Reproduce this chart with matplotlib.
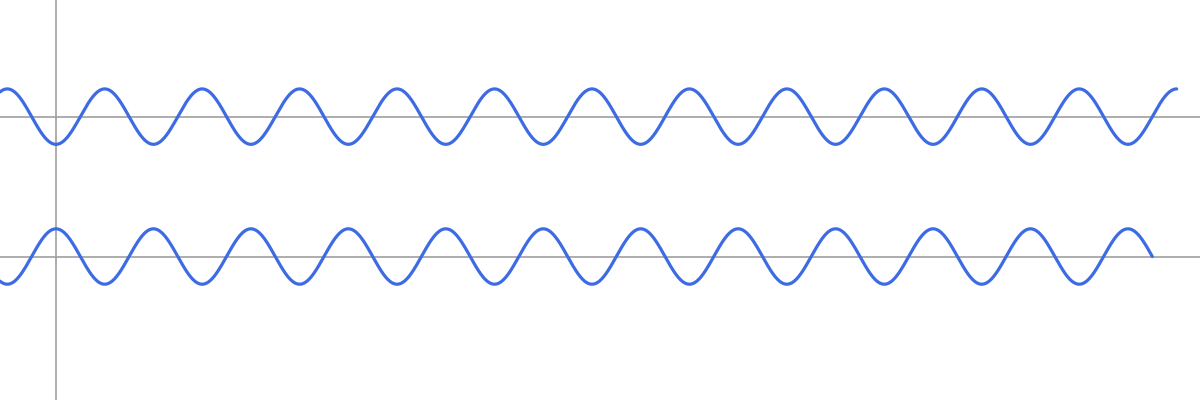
import numpy as np
import matplotlib
matplotlib.use("Agg")
import matplotlib.pyplot as plt

# two waves: amplitude, vertical offset, phase sign and x range (in radians)
wave_names = ["top", "bottom"]
wave_amp = [1.0, 1.0]
wave_offset = [0.0, -5.05]
wave_sign = [-1.0, 1.0]          # -cos for the top wave, cos for the bottom one
wave_start = [-3.7, -3.7]
wave_end = [23 * np.pi, 22.5 * np.pi]

x_lim = (-3.61, 73.76)
y_lim = (-10.23, 4.21)

fig = plt.figure(figsize=(12, 4), dpi=100)
ax = fig.add_axes([0, 0, 1, 1])

# axis lines
ax.axvline(0, color="#a0a0a0", lw=1.2, zorder=1)
for off in wave_offset:
    ax.axhline(off, color="#a0a0a0", lw=1.2, zorder=1)

for amp, off, sgn, x0, x1 in zip(wave_amp, wave_offset, wave_sign, wave_start, wave_end):
    x = np.linspace(x0, x1, 3000)
    y = off + sgn * amp * np.cos(x)
    ax.plot(x, y, color="#3d6be3", lw=2.3, solid_capstyle="round", zorder=2)

ax.set_xlim(*x_lim)
ax.set_ylim(*y_lim)
ax.axis("off")

fig.savefig("out.png", dpi=100, facecolor="white")
